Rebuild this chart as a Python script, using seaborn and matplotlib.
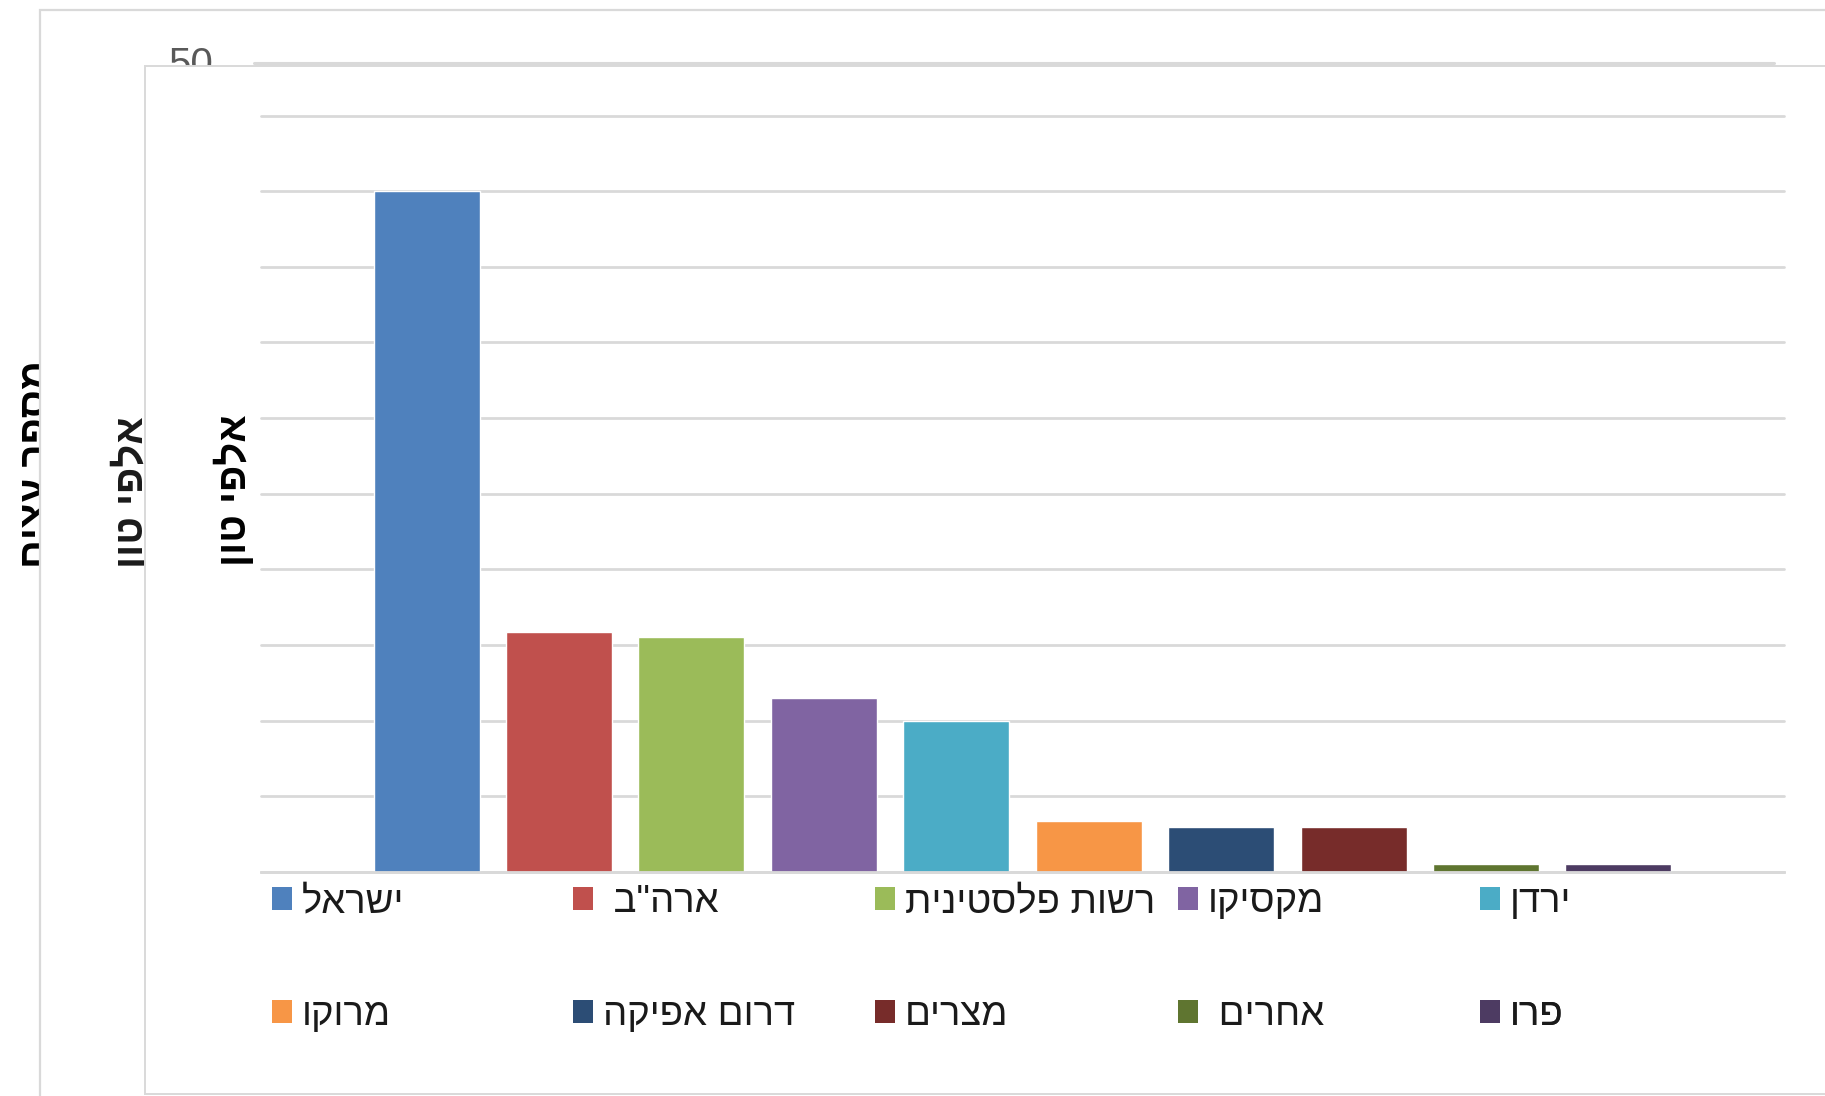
import matplotlib
matplotlib.use('Agg')
import matplotlib.pyplot as plt
import seaborn as sns
import pandas as pd
from matplotlib.patches import Patch, Rectangle
from matplotlib.lines import Line2D

# data (thousand tonnes: one line = 5)
countries = ['ישראל', 'ארה"ב ', 'רשות פלסטינית', 'מקסיקו', 'ירדן',
             'מרוקו', 'דרום אפיקה', 'מצרים', 'אחרים ', 'פרו']
values = [45.0, 15.85, 15.55, 11.5, 9.95, 3.4, 2.97, 2.97, 0.55, 0.52]
colors = ['#4F81BD', '#C0504D', '#9BBB59', '#8064A2', '#4BACC6',
          '#F79646', '#2C4D75', '#772C2A', '#5F7530', '#4D3B62']
y_ticks = list(range(0, 55, 5))
y_label = 'אלפי טון'
back_label = 'מספר עצים'
back_tick = '50'

W, H = 1825, 1096
FONT = ['Liberation Sans', 'DejaVu Sans']
GRID = '#D9D9D9'


def rtl(s):
    # matplotlib has no bidi support, so hand it the visual order
    return s[::-1]


def fx(px):
    return px / W


def fy(py):
    return 1 - py / H


sns.set_style('white')
plt.rcParams['font.family'] = FONT

fig = plt.figure(figsize=(W / 100, H / 100), dpi=100)
fig.patch.set_facecolor('white')

# back window (left over from the screenshot), its label half hidden
fig.text(fx(36), fy(464), rtl(back_label), rotation=90, ha='center', va='center',
         fontsize=29, fontweight='bold', color='black', zorder=1)
fig.add_artist(Rectangle((fx(40), fy(H + 20)), fx(W), fy(10) - fy(H + 20),
                         transform=fig.transFigure, facecolor='white',
                         edgecolor=GRID, lw=1.6, zorder=2))

# middle window
fig.text(fx(131), fy(492), rtl(y_label), rotation=90, ha='center', va='center',
         fontsize=29, fontweight='bold', color='#1a1a1a', zorder=3)
fig.text(fx(168), fy(76), back_tick, ha='left', va='baseline',
         fontsize=29, color='#595959', zorder=3)
fig.add_artist(Line2D([fx(254), fx(1774)], [fy(63), fy(63)],
                      transform=fig.transFigure, color=GRID, lw=2.2, zorder=3))

# front window
fig.add_artist(Rectangle((fx(145), fy(1094)), fx(W), fy(66) - fy(1094),
                         transform=fig.transFigure, facecolor='white',
                         edgecolor=GRID, lw=1.4, zorder=4))

ax = fig.add_axes([fx(261), fy(872), fx(1784) - fx(261), fy(115.5) - fy(872)])
ax.set_zorder(5)
ax.patch.set_alpha(0)

df = pd.DataFrame({'country': countries, 'value': values})
sns.barplot(data=df, x='country', y='value', hue='country', palette=colors,
            order=countries, hue_order=countries, saturation=1, width=0.8,
            legend=False, ax=ax)

ax.set_xlim(-1.25, 10.25)
ax.set_ylim(0, 50)
ax.set_yticks(y_ticks)
ax.set_yticklabels([])
ax.set_xticks([])
ax.set_xlabel('')
ax.set_ylabel('')
ax.tick_params(length=0)
ax.set_axisbelow(True)
ax.grid(axis='y', color=GRID, lw=2.0)
for gl in ax.get_ygridlines():
    gl.set_clip_on(False)
for side in ['left', 'right', 'top']:
    ax.spines[side].set_visible(False)
ax.spines['bottom'].set_color(GRID)
ax.spines['bottom'].set_linewidth(2.0)

fig.text(fx(234), fy(490), rtl(y_label), rotation=90, ha='center', va='center',
         fontsize=29, fontweight='bold', color='black', zorder=6)

# legend, laid out like the Excel one: 2 rows x 5 equal columns
leg_x = [272, 573, 875, 1178, 1480]
leg_y = [902, 1015]
fs = 27.5
box = 20 / (fs * 100 / 72)
for i, (name, col) in enumerate(zip(countries, colors)):
    row, c = divmod(i, 5)
    leg = ax.legend(handles=[Patch(facecolor=col, edgecolor='none')],
                    labels=[rtl(name)], loc='center left',
                    bbox_to_anchor=(fx(leg_x[c]), fy(leg_y[row])),
                    bbox_transform=fig.transFigure, frameon=False,
                    prop={'family': FONT, 'size': fs},
                    handlelength=box, handleheight=box, handletextpad=0.25,
                    borderpad=0, borderaxespad=0, labelcolor='#1a1a1a')
    ax.add_artist(leg)

fig.savefig('out.png', dpi=100, facecolor='white')
